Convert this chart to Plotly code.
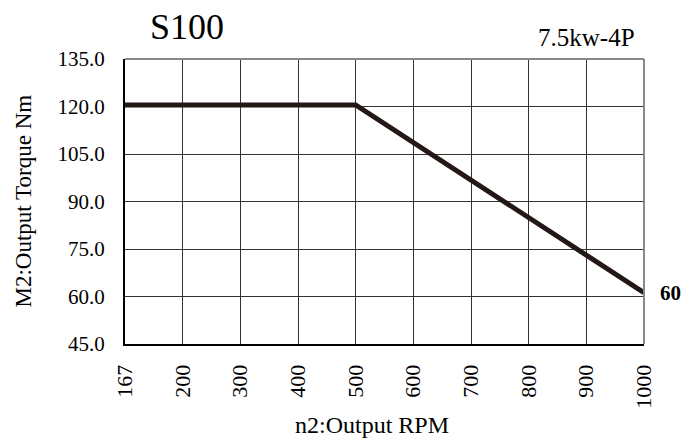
import plotly.graph_objects as go

rpm_ticks = ["167", "200", "300", "400", "500", "600", "700", "800", "900", "1000"]
rpm_points = ["167", "500", "1000"]
torque_points = [120.5, 120.5, 61.2]
torque_ticks = [45, 60, 75, 90, 105, 120, 135]

FONT = "Liberation Serif, Times New Roman, serif"

fig = go.Figure()
fig.add_trace(go.Scatter(
    x=rpm_points,
    y=torque_points,
    mode="lines",
    line=dict(color="#231815", width=5),
    showlegend=False,
    hoverinfo="skip",
))

fig.update_xaxes(
    type="category",
    categoryorder="array",
    categoryarray=rpm_ticks,
    range=[0, len(rpm_ticks) - 1],
    tickvals=rpm_ticks,
    ticktext=rpm_ticks,
    tickangle=-90,
    showgrid=True,
    gridcolor="#333333",
    gridwidth=1,
    showline=True,
    linecolor="#000000",
    linewidth=2,
    ticks="",
    ticklabelstandoff=10,
    tickfont=dict(family=FONT, size=22, color="black"),
    zeroline=False,
)
fig.update_yaxes(
    range=[45, 135],
    tickvals=torque_ticks,
    ticktext=[f"{v:.1f}" for v in torque_ticks],
    showgrid=True,
    gridcolor="#333333",
    gridwidth=1,
    showline=True,
    linecolor="#000000",
    linewidth=2,
    ticks="",
    ticklabelstandoff=14,
    tickfont=dict(family=FONT, size=21, color="black"),
    zeroline=False,
)

# gray top/right frame
fig.add_shape(type="line", xref="paper", yref="paper", x0=0, x1=1, y0=1, y1=1,
              line=dict(color="#888888", width=2))
fig.add_shape(type="line", xref="paper", yref="paper", x0=1, x1=1, y0=0, y1=1,
              line=dict(color="#888888", width=2))

fig.add_annotation(text="S100", xref="paper", yref="paper", x=(187 - 125) / 519, y=1,
                   yshift=32, showarrow=False, xanchor="center", yanchor="middle",
                   font=dict(family=FONT, size=36, color="black"))
fig.add_annotation(text="7.5kw-4P", xref="paper", yref="paper", x=(637 - 125) / 519, y=1,
                   showarrow=False, xanchor="right", yanchor="bottom", yshift=6,
                   font=dict(family=FONT, size=25, color="black"))
fig.add_annotation(text="<b>60</b>", xref="paper", yref="y", x=1, y=torque_points[-1],
                   xshift=14, showarrow=False, xanchor="left", yanchor="middle",
                   font=dict(family=FONT, size=21, color="black"))
fig.add_annotation(text="M2:Output Torque Nm", xref="paper", yref="paper", x=0, y=0.5,
                   xshift=-102, textangle=-90, showarrow=False,
                   xanchor="center", yanchor="middle",
                   font=dict(family=FONT, size=23, color="black"))
fig.add_annotation(text="n2:Output RPM", xref="paper", yref="paper", x=(372 - 125) / 519, y=0,
                   yshift=-81, showarrow=False, xanchor="center", yanchor="middle",
                   font=dict(family=FONT, size=24, color="black"))

fig.update_layout(
    width=699,
    height=443,
    margin=dict(l=125, r=55, t=59, b=99),
    plot_bgcolor="white",
    paper_bgcolor="white",
    showlegend=False,
)

fig.write_html("out.html", config={"displayModeBar": False},
               post_script="document.body.style.margin='0';document.body.style.overflow='hidden';")
